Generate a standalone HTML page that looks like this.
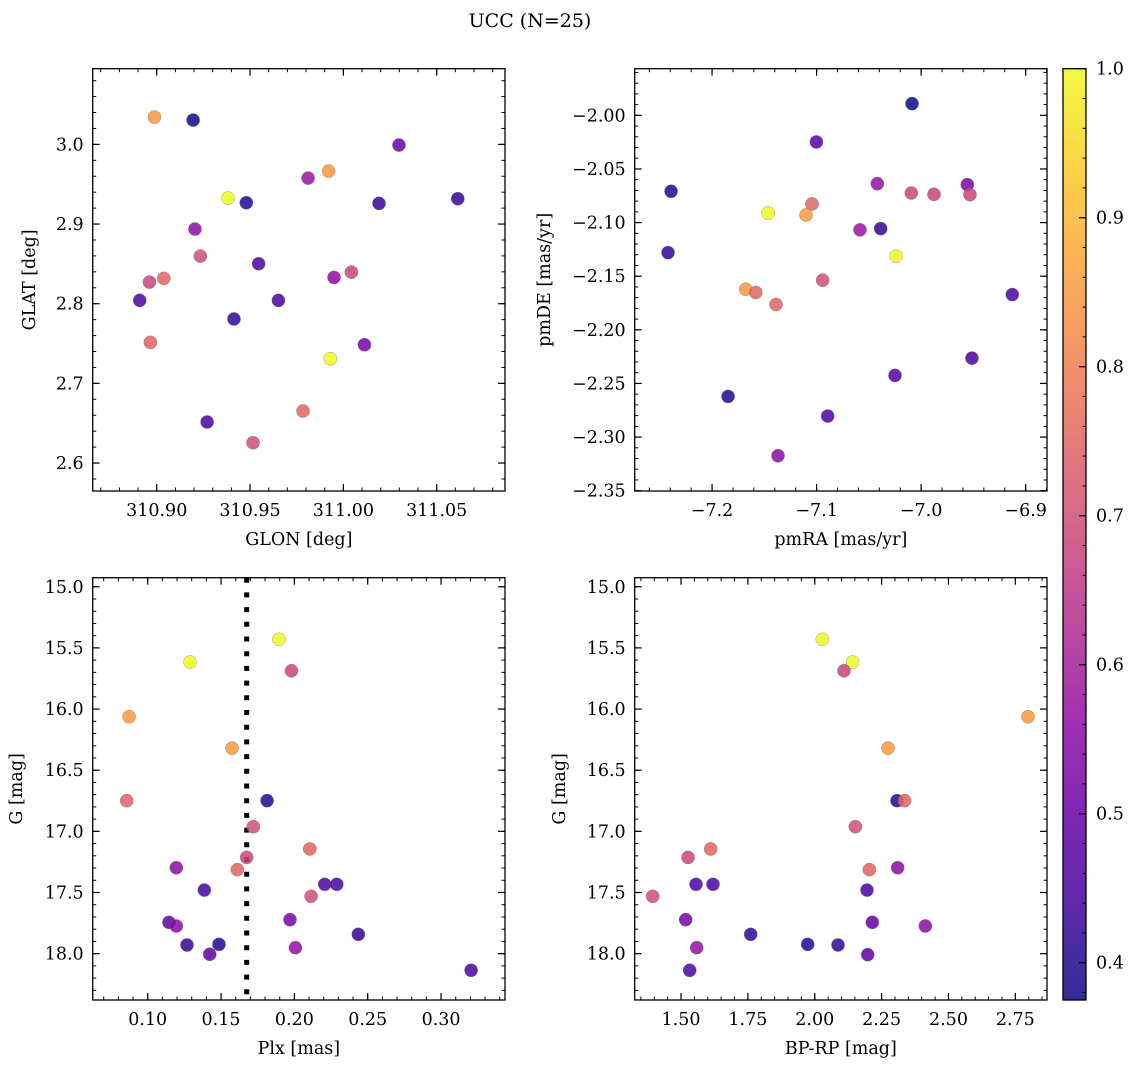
<!DOCTYPE html>
<html><head><meta charset="utf-8"><style>
html,body{margin:0;padding:0;background:#fff;}
svg{display:block;font-family:"DejaVu Serif","Liberation Serif",serif;}
</style></head><body>
<svg id="fig" width="1136" height="1068" viewBox="0 0 1136 1068" xmlns="http://www.w3.org/2000/svg">
<text x="530" y="27" font-size="19" text-anchor="middle">UCC (N=25)</text>
</svg>
<script>
// Panel 1: GLON / GLAT
const glonX=[310.8988,310.9195,311.0298,310.9921,310.9811,310.9382,310.948,311.0191,311.0613,310.9205,310.9234,310.9546,310.8961,310.9038,310.995,311.0043,310.8909,310.9652,310.9414,310.8966,311.0113,310.993,310.9784,310.927,310.9516];
const glatY=[3.0343,3.0305,2.9992,2.9665,2.9577,2.9326,2.9268,2.9259,2.9318,2.8937,2.8598,2.8502,2.8272,2.8318,2.833,2.8397,2.8042,2.8042,2.7808,2.7515,2.7485,2.731,2.6653,2.6515,2.6255];
const glatP=[0.85,0.38,0.5,0.85,0.58,1.0,0.4,0.42,0.42,0.56,0.7,0.45,0.68,0.75,0.56,0.68,0.45,0.45,0.42,0.75,0.52,1.0,0.75,0.45,0.7];
// Panel 2: pmRA / pmDE
const pmraX=[-7.0087,-7.1002,-7.2392,-7.0419,-7.0094,-6.9877,-6.9558,-6.9533,-7.1044,-7.1464,-7.1101,-7.0585,-7.0387,-7.2421,-7.024,-7.0942,-7.1678,-7.1582,-7.1388,-6.9128,-6.9514,-7.025,-7.1847,-7.0894,-7.1369];
const pmdeY=[-1.9891,-2.0248,-2.0708,-2.0637,-2.0724,-2.0736,-2.0646,-2.0739,-2.0826,-2.091,-2.0929,-2.1068,-2.1056,-2.128,-2.1314,-2.1537,-2.1621,-2.1652,-2.1764,-2.1671,-2.2264,-2.2425,-2.2621,-2.2804,-2.3174];
const pmP=[0.38,0.47,0.4,0.57,0.68,0.68,0.52,0.68,0.75,1.0,0.85,0.58,0.42,0.42,1.0,0.7,0.85,0.75,0.75,0.45,0.45,0.47,0.4,0.45,0.55];
// Panel 3: Plx / G
const plxX=[0.1895,0.1289,0.198,0.0873,0.1575,0.0857,0.1814,0.172,0.2105,0.1675,0.1195,0.1611,0.1386,0.2207,0.2289,0.2114,0.1145,0.1195,0.197,0.2436,0.1268,0.1486,0.1423,0.2007,0.3205];
const plxG=[15.43,15.616,15.687,16.063,16.319,16.749,16.749,16.962,17.144,17.213,17.297,17.313,17.48,17.433,17.433,17.531,17.744,17.774,17.722,17.842,17.929,17.924,18.005,17.951,18.136];
const plxP=[1.0,1.0,0.68,0.85,0.85,0.75,0.4,0.7,0.75,0.68,0.55,0.75,0.45,0.45,0.45,0.7,0.48,0.55,0.52,0.42,0.42,0.4,0.48,0.57,0.45];
const plxLine=0.1675;
// Panel 4: BP-RP / G
const cmdX=[2.0284,2.1418,2.1094,2.7974,2.2739,2.3076,2.3362,2.1518,1.6109,1.5262,2.2041,2.3101,1.5561,1.6196,2.1954,1.3941,1.5174,2.2153,2.4135,1.7605,1.9736,2.087,2.1979,1.5586,1.5324];
const cmdG=[15.43,15.616,15.687,16.063,16.319,16.749,16.749,16.962,17.144,17.213,17.313,17.297,17.433,17.433,17.48,17.531,17.722,17.744,17.774,17.842,17.924,17.929,18.008,17.951,18.136];
const cmdP=[1.0,1.0,0.68,0.85,0.85,0.4,0.75,0.7,0.75,0.68,0.75,0.55,0.45,0.45,0.45,0.7,0.52,0.5,0.55,0.42,0.4,0.42,0.48,0.57,0.45];
const p1xTicks=[310.90,310.95,311.00,311.05];
const p1yTicks=[2.6,2.7,2.8,2.9,3.0];
const p2xTicks=[-7.2,-7.1,-7.0,-6.9];
const p2yTicks=[-2.35,-2.30,-2.25,-2.20,-2.15,-2.10,-2.05,-2.00];
const p3xTicks=[0.10,0.15,0.20,0.25,0.30];
const gTicks=[15.0,15.5,16.0,16.5,17.0,17.5,18.0];
const p4xTicks=[1.50,1.75,2.00,2.25,2.50,2.75];
const cbTicks=[0.4,0.5,0.6,0.7,0.8,0.9,1.0];
const VMIN=0.375,VMAX=1.0;

const NS="http://www.w3.org/2000/svg";
const svg=document.getElementById('fig');
function mk(tag,attrs,parent){const e=document.createElementNS(NS,tag);for(const k in attrs)e.setAttribute(k,attrs[k]);(parent||svg).appendChild(e);return e;}
const stops=[[13,8,135],[65,4,157],[106,0,168],[143,13,164],[177,42,144],[204,71,120],[225,100,98],[242,132,75],[252,166,54],[252,206,37],[240,249,33]];
function plasma(t){t=Math.max(0,Math.min(1,t))*10;const i=Math.min(9,Math.floor(t)),f=t-i;const a=stops[i],b=stops[i+1];return 'rgb('+a.map((v,k)=>Math.round(v+(b[k]-v)*f)).join(',')+')';}
function col(p){return plasma((p-VMIN)/(VMAX-VMIN));}
function fmt(v,d){return (v<0?'\u2212':'')+Math.abs(v).toFixed(d);}
const TFS=17.5, LFS=17.5;

function panel(o){
  const g=mk('g',{});
  
  
  const sx=v=>o.L+(v-o.xmin)/(o.xmax-o.xmin)*(o.R-o.L);
  const sy=o.invert?(v=>o.T+(v-o.ymin)/(o.ymax-o.ymin)*(o.B-o.T)):(v=>o.B-(v-o.ymin)/(o.ymax-o.ymin)*(o.B-o.T));
  const eps=1e-9;
  for(let v=Math.ceil(o.xmin/o.xminor-eps)*o.xminor;v<=o.xmax+eps;v+=o.xminor){const x=sx(v);
    mk('line',{x1:x,x2:x,y1:o.B,y2:o.B-3.5,stroke:'#000','stroke-width':1},g);mk('line',{x1:x,x2:x,y1:o.T,y2:o.T+3.5,stroke:'#000','stroke-width':1},g);}
  for(let v=Math.ceil(o.ymin/o.yminor-eps)*o.yminor;v<=o.ymax+eps;v+=o.yminor){const y=sy(v);
    mk('line',{x1:o.L,x2:o.L+3.5,y1:y,y2:y,stroke:'#000','stroke-width':1},g);mk('line',{x1:o.R,x2:o.R-3.5,y1:y,y2:y,stroke:'#000','stroke-width':1},g);}
  o.xt.forEach(v=>{const x=sx(v);
    mk('line',{x1:x,x2:x,y1:o.B,y2:o.B-7,stroke:'#000','stroke-width':1.2},g);mk('line',{x1:x,x2:x,y1:o.T,y2:o.T+7,stroke:'#000','stroke-width':1.2},g);
    const t=mk('text',{x:x,y:o.B+25,'font-size':TFS,'text-anchor':'middle'},g);t.textContent=fmt(v,o.xd);
    
    });
  o.yt.forEach(v=>{const y=sy(v);
    mk('line',{x1:o.L,x2:o.L+7,y1:y,y2:y,stroke:'#000','stroke-width':1.2},g);mk('line',{x1:o.R,x2:o.R-7,y1:y,y2:y,stroke:'#000','stroke-width':1.2},g);
    const t=mk('text',{x:o.L-9,y:y+6,'font-size':TFS,'text-anchor':'end'},g);t.textContent=fmt(v,o.yd);
    
    });
  if(o.vline!==undefined){const l=mk('line',{x1:sx(o.vline),x2:sx(o.vline),y1:o.T,y2:o.B,stroke:'#000','stroke-width':5,'stroke-dasharray':'5 9.7'},g);
    
    }
  o.xs.forEach((v,i)=>{const c=mk('circle',{cx:sx(v),cy:sy(o.ys[i]),r:6.6,fill:col(o.ps[i]),'fill-opacity':0.85,stroke:'#777','stroke-width':0.5,'stroke-opacity':0.7},g);
    
    });
  mk('rect',{x:o.L,y:o.T,width:o.R-o.L,height:o.B-o.T,fill:'none',stroke:'#000','stroke-width':1.3},g);
  const xl=mk('text',{x:(o.L+o.R)/2,y:o.B+54,'font-size':LFS,'text-anchor':'middle'},g);xl.textContent=o.xlabel;
  
  
  const yl=mk('text',{x:0,y:0,'font-size':LFS,'text-anchor':'middle',transform:'translate('+o.ylx+','+((o.T+o.B)/2)+') rotate(-90)'},g);yl.textContent=o.ylabel;
  
  
}
panel({name:'glon-glat-panel',L:92.7,R:505,T:68.7,B:491,xmin:310.8657,xmax:311.0866,ymin:2.5649,ymax:3.095,xt:p1xTicks,yt:p1yTicks,xd:2,yd:1,xminor:0.01,yminor:0.02,xs:glonX,ys:glatY,ps:glatP,xlabel:'GLON [deg]',ylabel:'GLAT [deg]',ylx:35});
panel({name:'pm-panel',L:634.7,R:1047,T:68.7,B:491,xmin:-7.274,xmax:-6.8796,ymin:-2.3503,ymax:-1.9565,xt:p2xTicks,yt:p2yTicks,xd:1,yd:2,xminor:0.02,yminor:0.01,xs:pmraX,ys:pmdeY,ps:pmP,xlabel:'pmRA [mas/yr]',ylabel:'pmDE [mas/yr]',ylx:550});
panel({name:'plx-g-panel',L:92.7,R:505,T:577.7,B:1000,xmin:0.0625,xmax:0.3436,ymin:14.926,ymax:18.379,invert:true,xt:p3xTicks,yt:gTicks,xd:2,yd:1,xminor:0.01,yminor:0.1,xs:plxX,ys:plxG,ps:plxP,xlabel:'Plx [mas]',ylabel:'G [mag]',ylx:22,vline:plxLine});
panel({name:'cmd-panel',L:634.7,R:1047,T:577.7,B:1000,xmin:1.3268,xmax:2.8684,ymin:14.926,ymax:18.379,invert:true,xt:p4xTicks,yt:gTicks,xd:2,yd:1,xminor:0.05,yminor:0.1,xs:cmdX,ys:cmdG,ps:cmdP,xlabel:'BP-RP [mag]',ylabel:'G [mag]',ylx:565});

const cb=mk('g',{});


const CT=68.7,CB=1000,CL=1063,CR=1086;
const cy=v=>CB-(v-VMIN)/(VMAX-VMIN)*(CB-CT);
const defs=mk('defs',{},cb);const lg=mk('linearGradient',{id:'cbg',x1:0,y1:1,x2:0,y2:0},defs);
for(let i=0;i<=20;i++){mk('stop',{offset:i/20,'stop-color':plasma(i/20),'stop-opacity':0.85},lg);}
mk('rect',{x:CL,y:CT,width:CR-CL,height:CB-CT,fill:'url(#cbg)'},cb);
for(let v=0.38;v<=1.0001;v+=0.02){const y=cy(v);mk('line',{x1:CR,x2:CR-3.5,y1:y,y2:y,stroke:'#000','stroke-width':1},cb);}
cbTicks.forEach(v=>{const y=cy(v);mk('line',{x1:CR,x2:CR-7,y1:y,y2:y,stroke:'#000','stroke-width':1.2},cb);
  const t=mk('text',{x:CR+10,y:y+6,'font-size':TFS},cb);t.textContent=v.toFixed(1);
  
  });
mk('rect',{x:CL,y:CT,width:CR-CL,height:CB-CT,fill:'none',stroke:'#000','stroke-width':1.3},cb);
</script>
</body></html>
